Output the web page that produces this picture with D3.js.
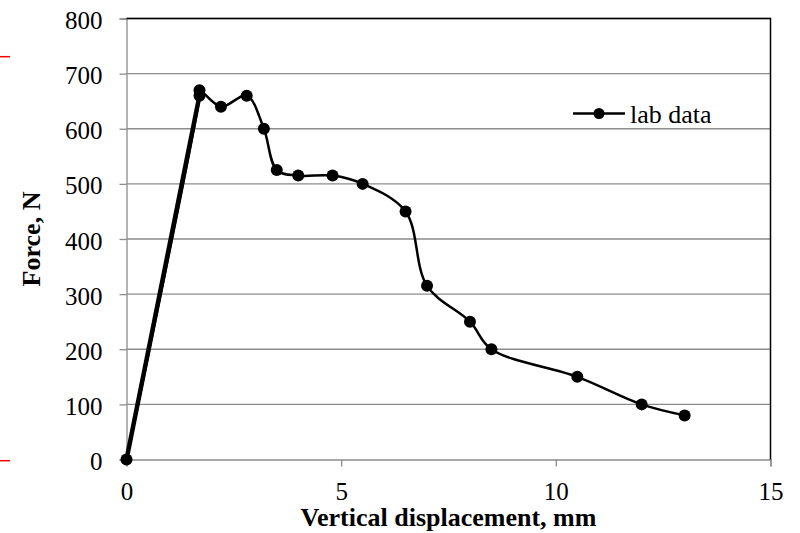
<!DOCTYPE html>
<html>
<head>
<meta charset="utf-8">
<script src="https://cdn.jsdelivr.net/npm/d3@7"></script>
<style>
  html, body { margin: 0; padding: 0; background: #fff; }
  svg { display: block; }
  svg text { font-family: "Liberation Serif", "Times New Roman", Times, serif !important; fill: #000; }
</style>
</head>
<body>
<svg id="chart" width="800" height="533"></svg>
<script>
// ---- data ----
const displacement = [0, 1.7, 1.7, 2.2, 2.8, 3.2, 3.5, 4.0, 4.8, 5.5, 6.5, 7.0, 8.0, 8.5, 10.5, 12.0, 13.0];
const force        = [0, 660, 670, 640, 660, 600, 525, 515, 515, 500, 450, 315, 250, 200, 150, 100, 80];
const xTicks = [0, 5, 10, 15];
const yTicks = [0, 100, 200, 300, 400, 500, 600, 700, 800];
const seriesName = "lab data";
const xTitle = "Vertical displacement, mm";
const yTitle = "Force, N";

(function () {
  const data = displacement.map((d, i) => ({ x: d, y: force[i] }));
  const serif = "'Liberation Serif', 'Times New Roman', Times, serif";

  const svg = d3.select("#chart");
  const pLeft = 126.5, pRight = 770.5, pTop = 18.5, pBottom = 459.5;

  const x = d3.scaleLinear().domain([0, 15]).range([pLeft, pRight]);
  const y = d3.scaleLinear().domain([0, 800]).range([pBottom, pTop]);

  const grid = "#8c8c8c";

  // red marks at far left
  svg.selectAll("line.redmark").data([56.7, 460.7]).enter().append("line")
    .attr("class", "redmark")
    .attr("x1", 0).attr("x2", 10).attr("y1", d => d).attr("y2", d => d)
    .attr("stroke", "#ff0000").attr("stroke-width", 1.5);

  // gridlines
  svg.append("g").selectAll("line").data(yTicks.filter(t => t > 0)).enter().append("line")
    .attr("x1", pLeft).attr("x2", pRight)
    .attr("y1", d => y(d)).attr("y2", d => y(d))
    .attr("stroke", grid).attr("stroke-width", 1.3);

  // y axis
  const yAxis = svg.append("g").attr("transform", `translate(${pLeft},0)`)
    .call(d3.axisLeft(y).tickValues(yTicks).tickSize(7).tickPadding(17).tickFormat(d3.format("d")));
  yAxis.attr("font-family", serif).attr("font-size", 25);
  yAxis.select(".domain").attr("stroke", grid).attr("stroke-width", 1.3);
  yAxis.selectAll(".tick line").attr("stroke", grid).attr("stroke-width", 1.3);
  yAxis.selectAll(".tick text").attr("fill", "#000").attr("dy", "0.4em");

  // x axis
  const xAxis = svg.append("g").attr("transform", `translate(0,${pBottom})`)
    .call(d3.axisBottom(x).tickValues(xTicks).tickSize(7).tickPadding(16).tickFormat(d3.format("d")));
  xAxis.attr("font-family", serif).attr("font-size", 25);
  xAxis.select(".domain").attr("stroke", grid).attr("stroke-width", 1.3);
  xAxis.selectAll(".tick line").attr("stroke", grid).attr("stroke-width", 1.3);
  xAxis.selectAll(".tick text").attr("fill", "#000");

  // top and right border (black)
  svg.append("path")
    .attr("d", `M${pLeft},${pTop}H${pRight}V${pBottom}`)
    .attr("fill", "none").attr("stroke", "#000").attr("stroke-width", 1.5);

  // series line (smoothed)
  const line = d3.line().x(d => x(d.x)).y(d => y(d.y)).curve(d3.curveCatmullRom.alpha(0.5));
  svg.append("path").datum(data)
    .attr("d", line).attr("fill", "none").attr("stroke", "#000").attr("stroke-width", 2.5);
  // heavier initial loading segment
  svg.append("path").datum(data.slice(0, 2))
    .attr("d", d3.line().x(d => x(d.x)).y(d => y(d.y)))
    .attr("fill", "none").attr("stroke", "#000").attr("stroke-width", 4.5);

  // markers
  svg.append("g").selectAll("circle").data(data).enter().append("circle")
    .attr("cx", d => x(d.x)).attr("cy", d => y(d.y)).attr("r", 6).attr("fill", "#000");

  // legend
  const lg = svg.append("g").attr("transform", "translate(573,113.5)");
  lg.append("line").attr("x1", 0).attr("x2", 52).attr("y1", 0).attr("y2", 0)
    .attr("stroke", "#000").attr("stroke-width", 2.5);
  lg.append("circle").attr("cx", 26).attr("cy", 0).attr("r", 5.5).attr("fill", "#000");
  lg.append("text").attr("x", 57).attr("y", 9)
    .attr("font-family", serif).attr("font-size", 26).text(seriesName);

  // axis titles
  svg.append("text").attr("x", (pLeft + pRight) / 2).attr("y", 526)
    .attr("text-anchor", "middle").attr("font-family", serif)
    .attr("font-size", 26).attr("font-weight", "bold").text(xTitle);
  svg.append("text").attr("transform", `translate(40,${(pTop + pBottom) / 2}) rotate(-90)`)
    .attr("text-anchor", "middle").attr("font-family", serif)
    .attr("font-size", 26).attr("font-weight", "bold").text(yTitle);
})();
</script>
</body>
</html>
